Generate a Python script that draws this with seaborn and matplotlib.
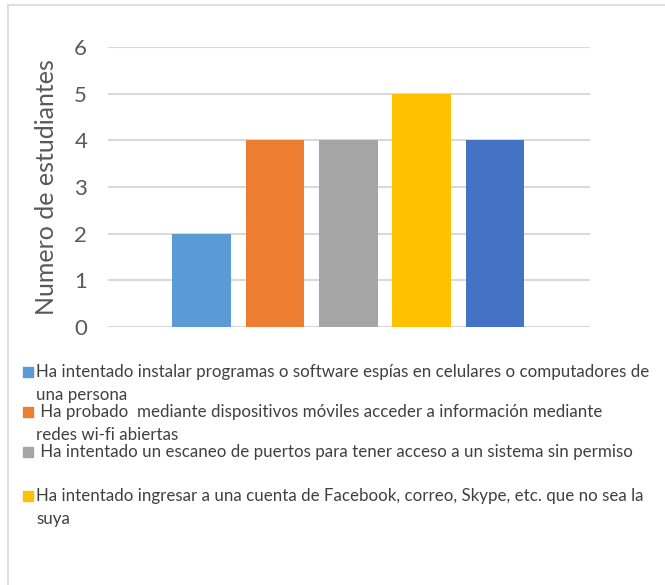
import matplotlib
matplotlib.use("Agg")
import matplotlib.pyplot as plt
import seaborn as sns
import pandas as pd
from matplotlib.patches import Rectangle
from matplotlib.lines import Line2D

categories = [
    "Ha intentado instalar programas o software espías en celulares o computadores de\nuna persona",
    " Ha probado  mediante dispositivos móviles acceder a información mediante\nredes wi-fi abiertas",
    " Ha intentado un escaneo de puertos para tener acceso a un sistema sin permiso",
    "Ha intentado ingresar a una cuenta de Facebook, correo, Skype, etc. que no sea la\nsuya",
    "Otra actividad",
]
values = [2, 4, 4, 5, 4]
colors = ["#5B9BD5", "#ED7D31", "#A5A5A5", "#FFC000", "#4472C4"]
y_ticks = [0, 1, 2, 3, 4, 5, 6]
y_label = "Numero de estudiantes"

sns.set_theme(style="white")
plt.rcParams["font.family"] = ["Lato", "DejaVu Sans"]

df = pd.DataFrame({"cat": categories, "val": values})

fig = plt.figure(figsize=(6.65, 5.85), dpi=100)
W, H = 665, 585
ax = fig.add_axes([108 / W, 1 - 327 / H, (590 - 108) / W, (327 - 47) / H])

sns.barplot(data=df, x="cat", y="val", hue="cat", palette=colors,
            saturation=1, width=0.8, legend=False, ax=ax, zorder=3, linewidth=0)

ax.set_ylim(0, 6)
ax.set_xlim(-1.274, 5.293)
ax.set_yticks(y_ticks)
ax.set_yticklabels([str(t) for t in y_ticks], fontsize=16, color="#595959")
ax.set_xticks([])
ax.set_xlabel("")
ax.set_ylabel(y_label, fontsize=18, color="#595959", labelpad=12)
ax.tick_params(axis="y", length=0, pad=15)
ax.yaxis.grid(True, color="#D9D9D9", linewidth=1.5, zorder=0)
ax.set_axisbelow(True)
for s in ax.spines.values():
    s.set_visible(False)

# chart-area border (cropped: left and top visible)
fig.add_artist(Line2D([8 / W, 8 / W], [0, 1 - 5 / H], transform=fig.transFigure,
                      color="#D9D9D9", linewidth=1.2))
fig.add_artist(Line2D([8 / W, 1], [1 - 5 / H, 1 - 5 / H], transform=fig.transFigure,
                      color="#D9D9D9", linewidth=1.2))

# legend (first four entries visible), each wrapped line placed separately
rows = [372, 412, 452, 496]
line_step = 23
for i, yc in enumerate(rows):
    fig.add_artist(Rectangle((23 / W, 1 - (yc + 5) / H), 10 / W, 10 / H,
                             transform=fig.transFigure, color=colors[i]))
    for j, line in enumerate(categories[i].split("\n")):
        fig.text(36 / W, 1 - (yc + j * line_step) / H, line, fontsize=12.2,
                 color="#404040", va="center", ha="left")

fig.savefig("out.png", dpi=100)
